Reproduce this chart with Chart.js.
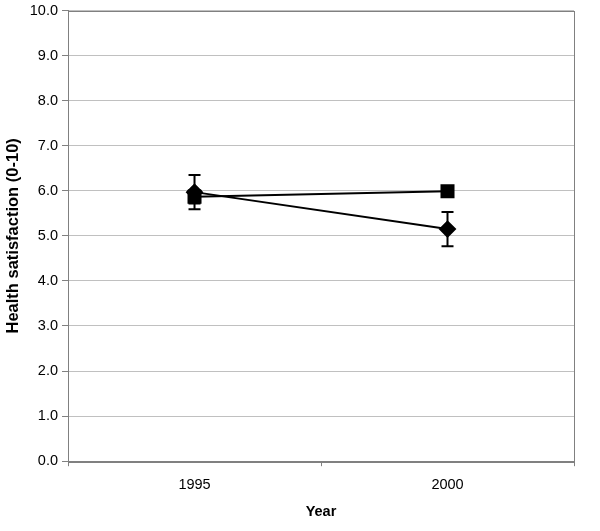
<!DOCTYPE html>
<html>
<head>
<meta charset="utf-8">
<script src="https://cdn.jsdelivr.net/npm/chart.js@4"></script>
<style>
  html, body { margin: 0; padding: 0; background: #fff; }
  #wrap { width: 600px; height: 531px; }
</style>
</head>
<body>
<div id="wrap"><canvas id="lineChart" width="600" height="531"></canvas></div>
<script>
const years = ['1995', '2000']
const seriesA = [5.97, 5.15]
const errorA = [0.38, 0.38]
const seriesB = [5.87, 5.99]
const errorB = [0.15, 0.05]
const yTicks = [0, 1, 2, 3, 4, 5, 6, 7, 8, 9, 10]

Chart.defaults.font.family = 'Liberation Sans, Arial, sans-serif'
Chart.defaults.color = '#000'

const errorBars = {
    id: 'errorBars',
    afterDatasetsDraw(chart) {
        const ctx = chart.ctx
        const y = chart.scales.y
        const errs = [errorA, errorB]
        ctx.save()
        ctx.strokeStyle = '#000'
        ctx.lineWidth = 2
        chart.data.datasets.forEach((ds, i) => {
            const meta = chart.getDatasetMeta(i)
            meta.data.forEach((pt, j) => {
                const top = y.getPixelForValue(ds.data[j] + errs[i][j])
                const bot = y.getPixelForValue(ds.data[j] - errs[i][j])
                ctx.beginPath()
                ctx.moveTo(pt.x, top); ctx.lineTo(pt.x, bot)
                ctx.moveTo(pt.x - 6, top); ctx.lineTo(pt.x + 6, top)
                ctx.moveTo(pt.x - 6, bot); ctx.lineTo(pt.x + 6, bot)
                ctx.stroke()
            })
        })
        ctx.restore()
    }
}

const frame = {
    id: 'frame',
    beforeDatasetsDraw(chart) {
        const a = chart.chartArea
        const ctx = chart.ctx
        ctx.save()
        ctx.strokeStyle = '#808080'
        ctx.lineWidth = 1
        ctx.strokeRect(Math.round(a.left) + 0.5, Math.round(a.top) + 0.5, Math.round(a.right - a.left), Math.round(a.bottom - a.top))
        ctx.restore()
    }
}

new Chart(document.getElementById('lineChart').getContext('2d'), {
    type: 'line',
    data: {
        labels: years,
        datasets: [{
            label: 'A',
            data: seriesA,
            borderColor: '#000',
            backgroundColor: '#000',
            borderWidth: 2,
            pointStyle: 'rectRot',
            pointRadius: 7.5,
            tension: 0,
        }, {
            label: 'B',
            data: seriesB,
            borderColor: '#000',
            backgroundColor: '#000',
            borderWidth: 2,
            pointStyle: 'rect',
            pointRadius: 8.5,
            tension: 0,
        }]
    },
    options: {
        responsive: false,
        animation: false,
        layout: { padding: { top: 1, right: 26, bottom: 10, left: 4 } },
        plugins: {
            legend: { display: false },
            tooltip: { enabled: false },
        },
        scales: {
            y: {
                min: 0,
                max: 10,
                afterBuildTicks: axis => { axis.ticks = yTicks.map(v => ({ value: v })) },
                ticks: {
                    callback: v => v.toFixed(1),
                    font: { size: 14.5, lineHeight: 0.1 },
                    padding: 4,
                },
                grid: { color: '#c0c0c0', tickLength: 6, tickColor: '#808080' },
                border: { color: '#808080' },
                title: {
                    display: true,
                    text: 'Health satisfaction (0-10)',
                    font: { size: 16.5, weight: 'bold' },
                    padding: { top: 0, bottom: 2 },
                },
            },
            x: {
                offset: true,
                ticks: { font: { size: 14.5 }, padding: 10 },
                grid: { offset: true, drawOnChartArea: false, tickLength: 5, tickColor: '#808080' },
                border: { color: '#808080' },
                title: {
                    display: true,
                    text: 'Year',
                    font: { size: 14.5, weight: 'bold' },
                    padding: { top: 0, bottom: 0 },
                },
            },
        }
    },
    plugins: [frame, errorBars]
})
</script>
</body>
</html>
